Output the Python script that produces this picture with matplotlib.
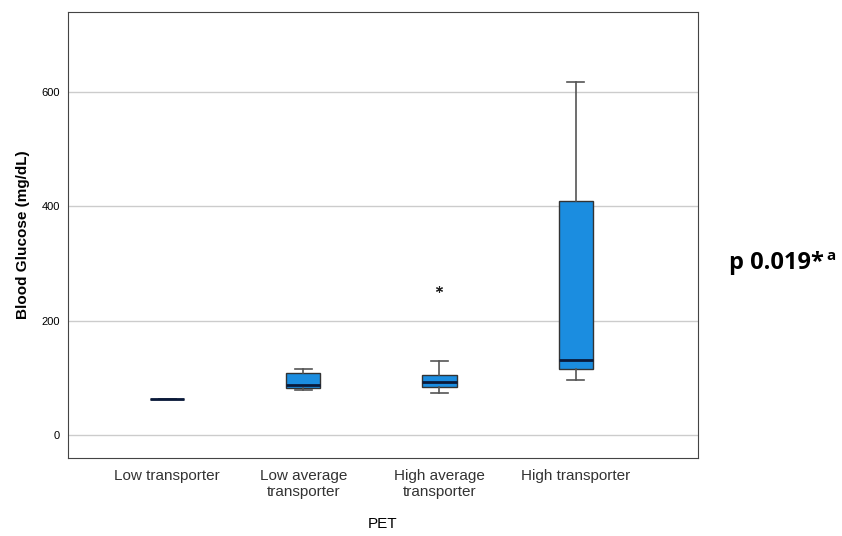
import matplotlib.pyplot as plt

categories = ['Low transporter', 'Low average\ntransporter', 'High average\ntransporter', 'High transporter']
whislo = [63, 79, 73, 97]
q1 = [63, 82, 85, 116]
med = [63, 87, 93, 132]
q3 = [63, 108, 106, 410]
whishi = [63, 115, 129, 617]
outliers = [[], [], [255], []]

stats = []
for i in range(len(categories)):
    stats.append({'whislo': whislo[i], 'q1': q1[i], 'med': med[i], 'q3': q3[i],
                  'whishi': whishi[i], 'fliers': outliers[i]})

plt.rcParams['font.family'] = ['Liberation Sans', 'DejaVu Sans']

fig = plt.figure(figsize=(8.42, 5.36), dpi=100)
ax = fig.add_axes([0.0808, 0.1455, 0.7482, 0.832])

ax.bxp(stats, positions=[1, 2, 3, 4], widths=0.25, patch_artist=True,
       boxprops=dict(facecolor='#1b8de0', edgecolor='#333333', linewidth=1),
       medianprops=dict(color='#0a1a3a', linewidth=2),
       whiskerprops=dict(color='#555555', linewidth=1.2),
       capprops=dict(color='#555555', linewidth=1.2),
       capwidths=0.12,
       flierprops=dict(marker=(6, 2, 0), markersize=5, markeredgecolor='#222222',
                       markeredgewidth=0.8, linestyle='none'))

ax.set_xlim(0.27, 4.9)
ax.set_ylim(-40, 740)
ax.set_yticks([0, 200, 400, 600])
ax.yaxis.grid(True, color='#cccccc', linewidth=1)
ax.set_axisbelow(True)
ax.tick_params(axis='both', length=0)
ax.tick_params(axis='y', labelsize=8, pad=6)
ax.tick_params(axis='x', pad=8)
ax.set_xticks([1, 2, 3, 4])
ax.set_xticklabels(categories, fontsize=11, color='#333333')
for s in ax.spines.values():
    s.set_color('#444444')

ax.set_ylabel('Blood Glucose (mg/dL)', fontsize=11, fontweight='bold', labelpad=8)
ax.set_xlabel('PET', fontsize=11, labelpad=13)

fig.text(0.866, 0.51, 'p 0.019*', fontsize=17, fontweight='bold',
         family=['Open Sans', 'DejaVu Sans'], va='center')
fig.text(0.982, 0.522, 'a', fontsize=11, fontweight='bold',
         family=['Open Sans', 'DejaVu Sans'], va='center')

fig.savefig('out.png', dpi=100)
